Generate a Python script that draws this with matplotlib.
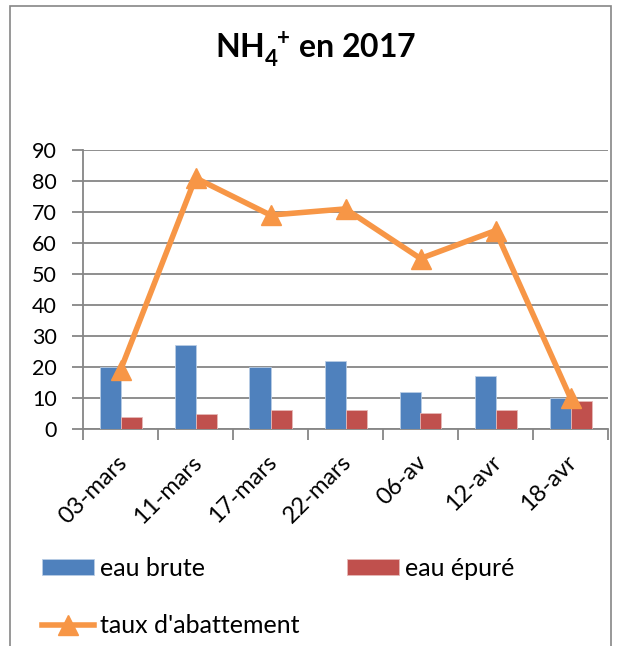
import matplotlib
matplotlib.use("Agg")
import matplotlib.pyplot as plt
import matplotlib.transforms as mtransforms
from matplotlib.patches import Rectangle
import numpy as np

categories = ["03-mars", "11-mars", "17-mars", "22-mars", "06-av", "12-avr", "18-avr"]
eau_brute = [20, 27, 20, 22, 12, 17, 10]
eau_epure = [4, 4.7, 6, 6, 5.3, 6, 9]
taux_abattement = [19, 81, 69, 71, 55, 64, 10]
y_ticks = [0, 10, 20, 30, 40, 50, 60, 70, 80, 90]

FONT = "Lato"
plt.rcParams["font.family"] = [FONT, "DejaVu Sans"]
plt.rcParams["mathtext.fontset"] = "custom"
plt.rcParams["mathtext.rm"] = FONT
plt.rcParams["mathtext.bf"] = FONT + ":bold"

W, H = 619, 646
fig = plt.figure(figsize=(W / 100, H / 100), dpi=100)
fig.patch.set_facecolor("white")

# outer chart border
fig.add_artist(Rectangle((10 / W, -0.05), (611 - 10) / W, 1.05 - 6 / H,
                         transform=fig.transFigure, fill=False,
                         edgecolor="#868686", linewidth=1.2))

ax = fig.add_axes([83 / W, 1 - 429 / H, (608 - 83) / W, (429 - 150) / H])

x = np.arange(len(categories))
bw = 0.28
ax.bar(x - bw / 2, eau_brute, width=bw, color="#4F81BD", edgecolor="#B9CDE5",
       linewidth=0.6, label="eau brute", zorder=3)
ax.bar(x + bw / 2, eau_epure, width=bw, color="#C0504D", edgecolor="#E6B9B8",
       linewidth=0.6, label="eau épuré", zorder=3)
ax.plot(x, taux_abattement, color="#F79646", linewidth=4, marker="^",
        markersize=14, label="taux d'abattement", zorder=4)

ax.set_xlim(-0.5, len(categories) - 0.5)
ax.set_ylim(0, 90)
ax.set_yticks(y_ticks)
ax.set_yticklabels([str(v) for v in y_ticks], fontsize=15.5)
ax.yaxis.grid(True, color="#868686", linewidth=1.3, zorder=0)
ax.set_axisbelow(True)

ax.set_xticks(np.arange(len(categories) + 1) - 0.5)
ax.set_xticklabels([])
ax.set_xticks(x, minor=True)
ax.set_xticklabels(categories, minor=True, rotation=45, ha="right",
                   va="center", rotation_mode="anchor", fontsize=17)
ax.tick_params(axis="x", which="minor", length=0, pad=0)
ax.tick_params(axis="x", which="major", length=8, width=1.3, color="#868686")
ax.tick_params(axis="y", length=8, width=1.3, color="#868686", pad=11)

for s in ["top", "right"]:
    ax.spines[s].set_visible(False)
for s in ["left", "bottom"]:
    ax.spines[s].set_color("#868686")
    ax.spines[s].set_linewidth(1.3)

# shift rotated labels so their end sits near the category centre
offset = mtransforms.ScaledTranslation(3 / 100, -30 / 100, fig.dpi_scale_trans)
for lbl in ax.get_xticklabels(minor=True):
    lbl.set_transform(lbl.get_transform() + offset)

fig.text(316 / W, 1 - 50 / H, r"$\mathbf{NH}_\mathbf{4}^{\hspace{0.55}\mathbf{+}}$ en 2017",
         ha="center", va="center", fontsize=23, fontweight="bold")

h1, l1 = ax.get_legend_handles_labels()
hmap = dict(zip(l1, h1))
order = ["eau brute", "taux d'abattement", "eau épuré"]
leg = fig.legend([hmap[k] for k in order], order,
                 loc="upper left", bbox_to_anchor=(42 / W, 1 - 557 / H),
                 ncol=2, frameon=False, fontsize=18, handlelength=2.08,
                 handleheight=0.6, handletextpad=0.24, columnspacing=1.9,
                 labelspacing=1.36, borderaxespad=0, borderpad=0)

fig.savefig("out.png", dpi=100, facecolor="white")
